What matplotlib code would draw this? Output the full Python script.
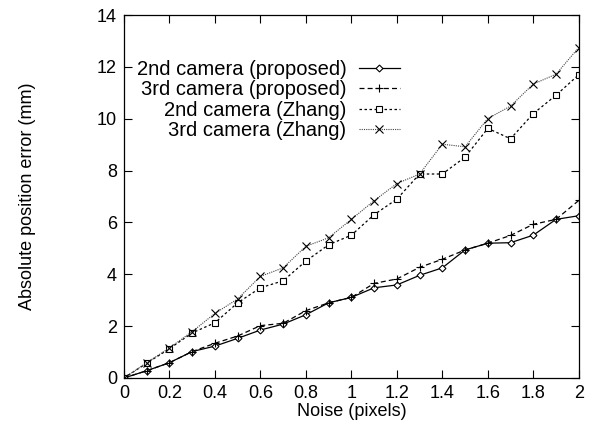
import numpy as np
import matplotlib
matplotlib.use('Agg')
import matplotlib.pyplot as plt

plt.rcParams['font.family'] = ['Liberation Sans', 'DejaVu Sans']

# Noise levels (pixels)
noise = [0.0, 0.1, 0.2, 0.3, 0.4, 0.5, 0.6, 0.7, 0.8, 0.9, 1.0,
         1.1, 1.2, 1.3, 1.4, 1.5, 1.6, 1.7, 1.8, 1.9, 2.0]

# Absolute position error (mm)
cam2_proposed = [0.0, 0.28, 0.59, 1.02, 1.23, 1.53, 1.85, 2.08, 2.44, 2.90, 3.11,
                 3.48, 3.59, 3.96, 4.25, 4.94, 5.20, 5.22, 5.51, 6.12, 6.26]
cam3_proposed = [0.0, 0.28, 0.59, 1.02, 1.34, 1.62, 2.02, 2.11, 2.60, 2.90, 3.11,
                 3.65, 3.82, 4.27, 4.58, 4.94, 5.20, 5.50, 5.93, 6.12, 6.85]
cam2_zhang = [0.0, 0.57, 1.13, 1.74, 2.13, 2.90, 3.48, 3.75, 4.51, 5.14, 5.51,
              6.30, 6.90, 7.87, 7.87, 8.52, 9.63, 9.23, 10.20, 10.91, 11.70]
cam3_zhang = [0.0, 0.59, 1.16, 1.79, 2.49, 3.05, 3.92, 4.25, 5.08, 5.41, 6.12,
              6.84, 7.50, 7.87, 9.02, 8.92, 10.01, 10.49, 11.34, 11.72, 12.75]

labels = ['2nd camera (proposed)', '3rd camera (proposed)',
          '2nd camera (Zhang)', '3rd camera (Zhang)']

fig = plt.figure(figsize=(5.93, 4.32), dpi=100)
ax = fig.add_axes([0.209, 0.125, 0.767, 0.840])

ax.plot(noise, cam2_proposed, color='black', lw=0.9, ls='-',
        marker='D', ms=3.5, mfc='white', mew=0.8, label=labels[0])
ax.plot(noise, cam3_proposed, color='black', lw=0.9, ls=(0, (4, 2.5)),
        marker='+', ms=6, mew=0.8, label=labels[1])
ax.plot(noise, cam2_zhang, color='black', lw=0.9, ls=(0, (2, 2)),
        marker='s', ms=5, mfc='white', mew=0.8, label=labels[2])
ax.plot(noise, cam3_zhang, color='#444444', lw=0.8, ls=(0, (1, 1)),
        marker='x', ms=5.5, mew=0.8, mec='black', label=labels[3])

ax.set_xlim(0, 2)
ax.set_ylim(0, 14)
ax.set_xticks(np.arange(0, 2.01, 0.2))
ax.set_xticklabels(['0', '0.2', '0.4', '0.6', '0.8', '1', '1.2', '1.4', '1.6', '1.8', '2'])
ax.set_yticks(np.arange(0, 15, 2))
ax.tick_params(direction='in', top=True, right=True, length=6, width=0.8,
               labelsize=13, pad=5)
for s in ax.spines.values():
    s.set_linewidth(0.9)

ax.set_xlabel('Noise (pixels)', fontsize=13, labelpad=1)
ax.set_ylabel('Absolute position error (mm)', fontsize=13, labelpad=44)

ax.legend(loc='upper right', bbox_to_anchor=(0.615, 0.887), frameon=False,
          markerfirst=False, fontsize=14.5, handlelength=2.0, handletextpad=0.65,
          labelspacing=0.06, borderpad=0.2, borderaxespad=0)

fig.savefig('out.png', dpi=100)
